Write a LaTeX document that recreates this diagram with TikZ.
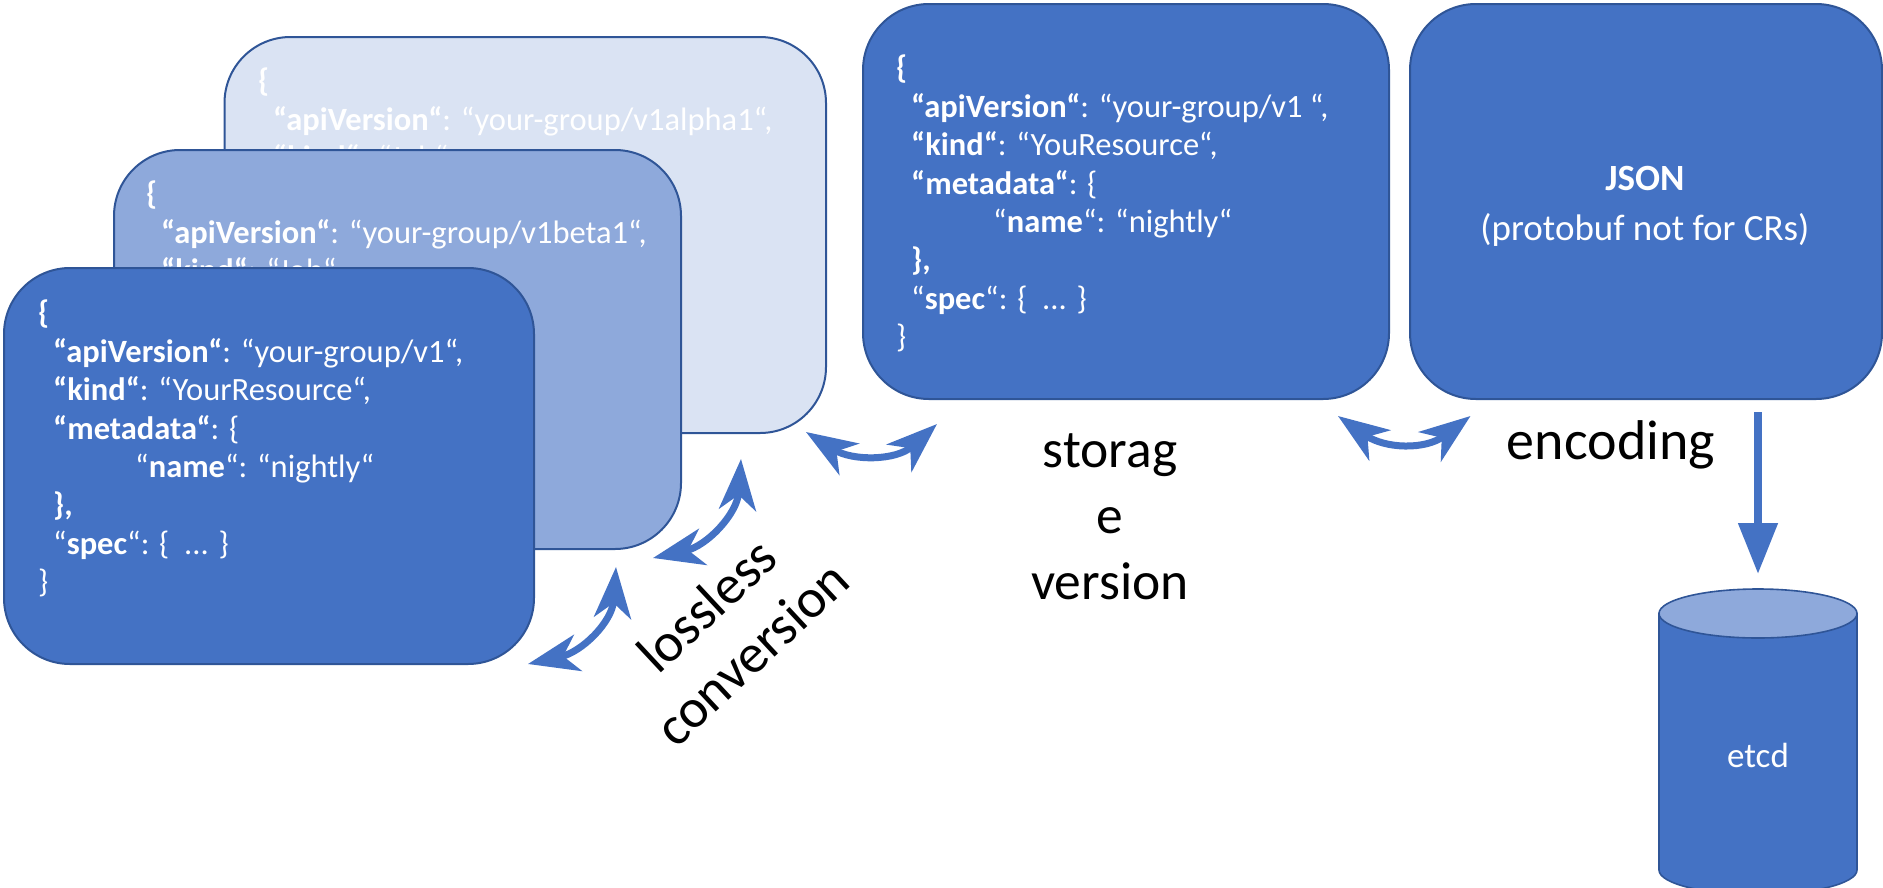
\documentclass[tikz,border=0pt]{standalone}
\usepackage{fontspec}
\setmainfont{Carlito}
\usetikzlibrary{arrows.meta}
\definecolor{blueA}{HTML}{4472C4}
\definecolor{blueB}{HTML}{8EA9DB}
\definecolor{blueC}{HTML}{DAE3F3}
\definecolor{edgeblue}{HTML}{2F5597}
\tikzset{
  x=1pt,y=-1pt,
  card/.style={draw=edgeblue,line width=2pt,rounded corners=66pt},
  json/.style={anchor=north west,inner sep=0pt,align=left,text=white,font=\fontsize{32.5}{38.4}\selectfont},
  label/.style={inner sep=0pt,align=center,text=black,font=\fontsize{53.5}{66}\selectfont},
  dbl/.style={blueA,line width=7pt,{Stealth[length=51pt,width=37pt,inset=15pt]}-{Stealth[length=51pt,width=37pt,inset=15pt]}},
}
\newcommand{\jb}[1]{\textbf{#1}}
\newcommand{\jsonhead}[2]{%
\jb{\{}\\
\hspace*{15pt}\jb{“apiVersion“}: “#1“,\\
\hspace*{15pt}\jb{“kind“}: “#2“,}
\newcommand{\jsontext}[2]{%
\jsonhead{#1}{#2}\\
\hspace*{15pt}\jb{“metadata“}: \{\\
\hspace*{97pt}“\jb{name}“: “nightly“\\
\hspace*{15pt}\jb{\},}\\
\hspace*{15pt}“\jb{spec}“: \{\ \ ... \}\\
\}}
\begin{document}
\begin{tikzpicture}
\useasboundingbox (0,0) rectangle (1883,887);
% back card: only the lines that the next card leaves in view
\path[card,fill=blueC] (224.5,37) rectangle (826,433);
\node[json] (backtext) at (258,68) {\jsonhead{your-group/v1alpha1}{Job}};
% middle card
\path[card,fill=blueB] (114,150) rectangle (681,549);
\node[json] (midtext) at (146,181) {\jsonhead{your-group/v1beta1}{Job}};
% front card
\path[card,fill=blueA] (4,268) rectangle (534,664);
\node[json] (fronttext) at (38,300) {\jsontext{your-group/v1}{YourResource}};
% storage card
\path[card,fill=blueA] (863,4) rectangle (1389,399);
\node[json] (storetext) at (896,55) {\jsontext{your-group/v1 }{YouResource}};
% json card
\path[card,fill=blueA] (1410,4) rectangle (1882,399);
\node[inner sep=0pt,align=center,text=white,font=\fontsize{37}{50}\selectfont] (jsontxt) at (1645,206) {\textbf{JSON}\\(protobuf not for CRs)};
% cylinder
\path[draw=edgeblue,line width=1.6pt,fill=blueA] (1659,613.5) -- (1659,870) arc[start angle=180,end angle=0,x radius=99,y radius=24.5] -- (1857,613.5) -- cycle;
\path[draw=edgeblue,line width=1.6pt,fill=blueB] (1758,613.5) ellipse[x radius=99,y radius=24.5];
\node[inner sep=0pt,text=white,font=\fontsize{35}{40}\selectfont] (etcd) at (1758,755) {etcd};
% labels
\node[label] (storage) at (1110,517) {storag\\e\\version};
\node[label,font=\fontsize{56}{66}\selectfont] (encoding) at (1611,445) {encoding};
\node[label,rotate=43,font=\fontsize{55}{66}\selectfont] (lossless) at (729,629) {lossless\\conversion};
% connectors
\coordinate (a1) at (528,664); \coordinate (a2) at (616,567);
\coordinate (b1) at (653,558); \coordinate (b2) at (741,459);
\coordinate (c1) at (806,432); \coordinate (c2) at (937,424);
\coordinate (d1) at (1338,416); \coordinate (d2) at (1470.5,416);
\coordinate (e1) at (1758,412); \coordinate (e2) at (1758,574);
\draw[dbl] (a1) .. controls +(54,-12) and +(-3.8,55) .. (a2);
\draw[dbl] (b1) .. controls +(54,-12) and +(-3.8,55) .. (b2);
\draw[dbl] (c1) .. controls +(46,29) and +(-41,37) .. (c2);
\draw[dbl] (d1) .. controls +(47,33) and +(-45,34) .. (d2);
\draw[blueA,line width=8pt,-{Triangle[length=51pt,width=38pt]}] (e1) -- (e2);
\end{tikzpicture}
\end{document}
